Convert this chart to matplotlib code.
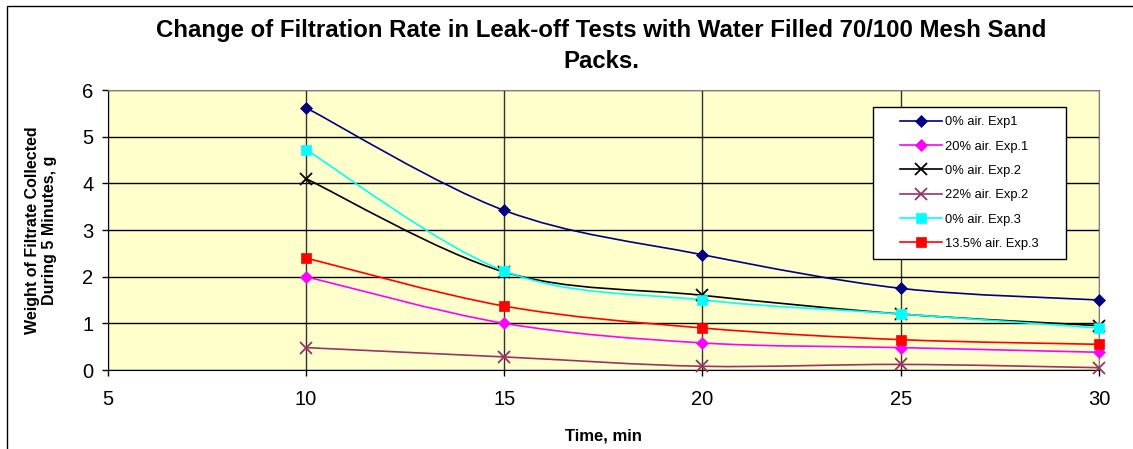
import numpy as np
import matplotlib
matplotlib.use("Agg")
import matplotlib.pyplot as plt
from matplotlib.path import Path
from matplotlib.patches import PathPatch, Rectangle
from matplotlib.lines import Line2D

plt.rcParams['font.family'] = ['Liberation Sans', 'DejaVu Sans']

# --- data ---
time_min = [10, 15, 20, 25, 30]
exp1_0 = [5.62, 3.42, 2.47, 1.75, 1.50]
exp1_20 = [2.00, 1.00, 0.58, 0.48, 0.38]
exp2_0 = [4.10, 2.10, 1.60, 1.20, 0.95]
exp2_22 = [0.48, 0.28, 0.08, 0.12, 0.05]
exp3_0 = [4.72, 2.12, 1.50, 1.20, 0.90]
exp3_135 = [2.40, 1.37, 0.90, 0.65, 0.55]

labels = ["0% air. Exp1", "20% air. Exp.1", "0% air. Exp.2",
          "22% air. Exp.2", "0% air. Exp.3", "13.5% air. Exp.3"]
series = [exp1_0, exp1_20, exp2_0, exp2_22, exp3_0, exp3_135]
colors = ['#000080', '#FF00FF', '#000000', '#993366', '#00FFFF', '#FF0000']
markers = ['D', 'D', 'x', 'x', 's', 's']
msizes = [6, 6, 8, 8, 7, 7]


def smooth_path(x, y):
    # Excel-like smoothed line: Catmull-Rom converted to cubic Bezier segments
    pts = np.column_stack([x, y]).astype(float)
    n = len(pts)
    verts = [pts[0]]
    codes = [Path.MOVETO]
    for i in range(n - 1):
        p0 = pts[max(i - 1, 0)]
        p1 = pts[i]
        p2 = pts[i + 1]
        p3 = pts[min(i + 2, n - 1)]
        c1 = p1 + (p2 - p0) / 6.0
        c2 = p2 - (p3 - p1) / 6.0
        verts += [c1, c2, p2]
        codes += [Path.CURVE4] * 3
    return Path(verts, codes)


fig = plt.figure(figsize=(11.33, 4.49), dpi=100)
fig.patches.append(Rectangle((6.5 / 1133, -0.1), 1.2, 1.1 - 6.5 / 449,
                             transform=fig.transFigure, fill=False,
                             edgecolor='black', linewidth=1.0))

ax = fig.add_axes([107.7 / 1133, 1 - 370 / 449, (1099 - 107.7) / 1133, 280 / 449])
ax.set_facecolor('#FFFFCC')

for yv, c, m, ms in zip(series, colors, markers, msizes):
    ax.add_patch(PathPatch(smooth_path(time_min, yv), facecolor='none',
                           edgecolor=c, linewidth=1.2, zorder=3))
    ax.plot(time_min, yv, linestyle='none', marker=m, color=c, markersize=ms,
            markeredgewidth=1.3 if m == 'x' else 0.5, zorder=4, clip_on=False)

ax.set_xlim(5, 30)
ax.set_ylim(0, 6)
ax.set_xticks([5, 10, 15, 20, 25, 30])
ax.set_yticks([0, 1, 2, 3, 4, 5, 6])
ax.xaxis.grid(True, color='#333333', linewidth=1.0)
ax.yaxis.grid(True, color='black', linewidth=1.0)
ax.set_axisbelow(True)
ax.tick_params(axis='both', direction='out', length=4.3, width=1, labelsize=14.5,
               colors='black')
ax.tick_params(axis='x', pad=10)
ax.tick_params(axis='y', pad=6)
for s in ['top', 'right']:
    ax.spines[s].set_color('#808080')
for s in ['left', 'bottom']:
    ax.spines[s].set_color('black')

ax.set_xlabel("Time, min", fontsize=12, fontweight='bold', labelpad=14)
ax.set_ylabel("Weight of Filtrate Collected\nDuring 5 Minutes, g", fontsize=11.5,
              fontweight='bold', labelpad=18, linespacing=1.15)
fig.text(0.531, 0.8975, "Change of Filtration Rate in Leak-off Tests with Water Filled 70/100 Mesh Sand\nPacks.",
         ha='center', va='center', fontsize=17.3, fontweight='bold', linespacing=1.49)

handles = [Line2D([], [], color=c, marker=m, markersize=ms, linewidth=1.2,
                  markeredgewidth=1.3 if m == 'x' else 0.5)
           for c, m, ms in zip(colors, markers, msizes)]
leg = ax.legend(handles, labels, loc='center',
                bbox_to_anchor=(0.772, 0.396, 0.195, 0.543),
                fontsize=9.3, frameon=False, labelspacing=0.95, handlelength=3.2,
                handletextpad=0.3, borderpad=0.8, numpoints=1)
# legend box drawn wider than matplotlib's own frame
ax.add_patch(Rectangle((0.772, 0.396), 0.195, 0.543, transform=ax.transAxes,
                       facecolor='white', edgecolor='black', linewidth=1.0,
                       zorder=5))
leg.set_zorder(6)

fig.savefig("out.png", dpi=100)
